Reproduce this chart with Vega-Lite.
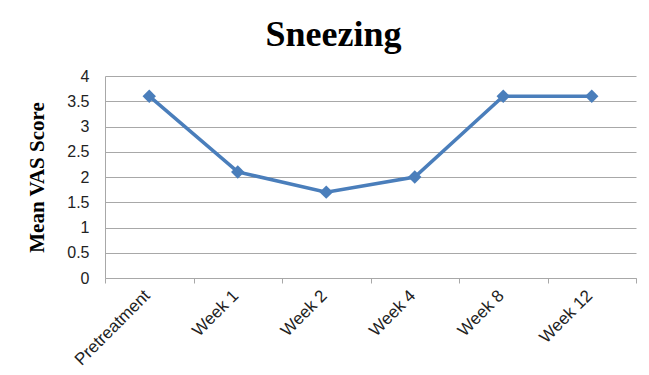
{
  "$schema": "https://vega.github.io/schema/vega-lite/v6.json",
  "width": 531,
  "height": 202,
  "autosize": {"type": "none"},
  "padding": {"left": 105, "top": 76, "right": 13, "bottom": 97},
  "background": "white",
  "title": {
    "text": "Sneezing",
    "font": "Liberation Serif",
    "fontSize": 36,
    "fontWeight": "bold",
    "color": "black",
    "anchor": "middle",
    "baseline": "alphabetic",
    "offset": 30,
    "dx": -37,
    "dy": 44
  },
  "data": {
    "values": [
      {"time": "Pretreatment", "score": 3.6},
      {"time": "Week 1", "score": 2.1},
      {"time": "Week 2", "score": 1.7},
      {"time": "Week 4", "score": 2.0},
      {"time": "Week 8", "score": 3.6},
      {"time": "Week 12", "score": 3.6}
    ]
  },
  "config": {
    "view": {"stroke": null},
    "axis": {
      "labelFont": "Liberation Sans",
      "labelFontSize": 16,
      "labelColor": "#222222",
      "gridColor": "#a8a8a8",
      "domainColor": "#a8a8a8",
      "tickColor": "#a8a8a8"
    }
  },
  "encoding": {
    "x": {
      "field": "time",
      "type": "nominal",
      "sort": null,
      "scale": {"paddingInner": 0, "paddingOuter": 0},
      "axis": {
        "title": null,
        "labelAngle": -45,
        "labelFontSize": 17,
        "labelOffset": -8,
        "tickBand": "extent",
        "tickSize": 5,
        "labelPadding": 4,
        "grid": false
      }
    },
    "y": {
      "field": "score",
      "type": "quantitative",
      "scale": {"domain": [0, 4]},
      "axis": {
        "title": "Mean VAS Score",
        "titleFont": "Liberation Serif",
        "titleFontSize": 21,
        "titleFontWeight": "bold",
        "titleColor": "black",
        "titleAngle": -90,
        "titleX": -68,
        "titleY": 101,
        "titleAlign": "center",
        "titleBaseline": "middle",
        "values": [0, 0.5, 1, 1.5, 2, 2.5, 3, 3.5, 4],
        "format": "~g",
        "ticks": false,
        "labelPadding": 16,
        "grid": true
      }
    }
  },
  "layer": [
    {"mark": {"type": "line", "color": "#4a7ebb", "strokeWidth": 3.5}},
    {"mark": {"type": "point", "shape": "diamond", "filled": true, "opacity": 1, "color": "#4a7ebb", "size": 180}}
  ]
}
